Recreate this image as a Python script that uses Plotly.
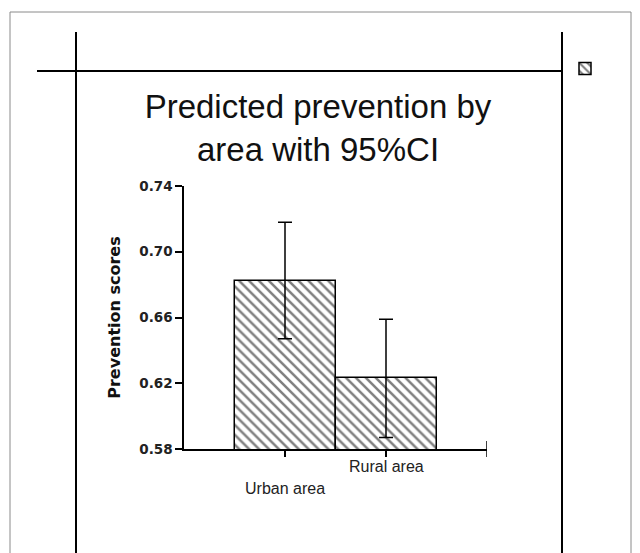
import plotly.graph_objects as go

# ---- data ----
categories = ["Urban area", "Rural area"]
predicted = [0.682, 0.623]
ci_upper = [0.718, 0.659]
ci_lower = [0.647, 0.587]
y_ticks = [0.58, 0.62, 0.66, 0.70, 0.74]

# page offset of the plot div (browser body margin)
OFF = 8
W, H = 640 - OFF, 553 - OFF
L, R, T, B = 184, 487, 186, 449  # plot-area box in screen pixels


def px(x):
    return (x - L) / (R - L)


def py(y):
    return (B - y) / (B - T)


xpos = list(range(len(categories)))
err_plus = [u - v for u, v in zip(ci_upper, predicted)]
err_minus = [v - l for v, l in zip(predicted, ci_lower)]

fig = go.Figure()
fig.add_trace(go.Bar(
    x=xpos, y=predicted, width=1,
    name=" ",
    showlegend=True,
    marker=dict(color="white",
                line=dict(color="black", width=1.5),
                pattern=dict(shape="\\", fgcolor="black", bgcolor="white",
                             size=7, solidity=0.36)),
    error_y=dict(type="data", symmetric=False, array=err_plus,
                 arrayminus=err_minus, color="black", thickness=1.5, width=7),
))

tick_font = dict(family="DejaVu Sans", size=13.5, color="#222", weight="bold")

fig.update_layout(
    width=W, height=H, autosize=False,
    margin=dict(l=L - OFF, r=640 - R, t=T - OFF, b=553 - B),
    paper_bgcolor="white", plot_bgcolor="white",
    bargap=0,
    title=dict(text="Predicted prevention by<br>area with 95%CI",
               font=dict(family="Liberation Sans", size=33, color="#111"),
               x=(318 - OFF) / W, xref="container", xanchor="center",
               y=1 - (118 - OFF) / H, yref="container", yanchor="middle"),
    legend=dict(x=px(565), y=py(54), xanchor="left", yanchor="top",
                bgcolor="rgba(0,0,0,0)", font=dict(size=10)),
    showlegend=True,
)

fig.update_xaxes(range=[-1, len(categories)], tickvals=xpos,
                 ticktext=["" for _ in categories],
                 ticks="outside", ticklen=6, tickwidth=1.5, tickcolor="black",
                 showline=True, linecolor="black", linewidth=1.5,
                 showgrid=False, zeroline=False, fixedrange=True)
fig.update_yaxes(range=[y_ticks[0], y_ticks[-1]], tickvals=y_ticks,
                 ticktext=[f"{v:.2f}" for v in y_ticks],
                 ticks="outside", ticklen=7, tickwidth=1.5, tickcolor="black",
                 tickfont=tick_font,
                 showline=True, linecolor="black", linewidth=1.5,
                 showgrid=False, zeroline=False,
                 title=dict(text="Prevention scores", standoff=15,
                            font=dict(family="DejaVu Sans", size=16,
                                      color="#111", weight="bold")))

# staggered category labels (Urban lower, Rural higher)
label_y = {"Urban area": 488, "Rural area": 466}
for i, cat in enumerate(categories):
    fig.add_annotation(x=xpos[i], xref="x", y=py(label_y[cat]), yref="paper",
                       text=cat, showarrow=False, yanchor="middle",
                       font=dict(family="Liberation Sans", size=16, color="#222"))

# end tick of x axis
fig.add_shape(type="line", xref="x", x0=len(categories), x1=len(categories),
              yref="paper", y0=py(457), y1=py(441),
              line=dict(color="black", width=1.5))

# frame decoration
fig.add_shape(type="rect", xref="paper", yref="paper",
              x0=px(10), x1=px(631), y0=py(565), y1=py(12),
              line=dict(color="#8a8a8a", width=1), layer="below")
for xv in (76, 562):
    fig.add_shape(type="line", xref="paper", yref="paper",
                  x0=px(xv), x1=px(xv), y0=py(32), y1=py(565),
                  line=dict(color="black", width=2))
fig.add_shape(type="line", xref="paper", yref="paper",
              x0=px(37), x1=px(562), y0=py(71), y1=py(71),
              line=dict(color="black", width=2))

fig.write_html("out.html")
